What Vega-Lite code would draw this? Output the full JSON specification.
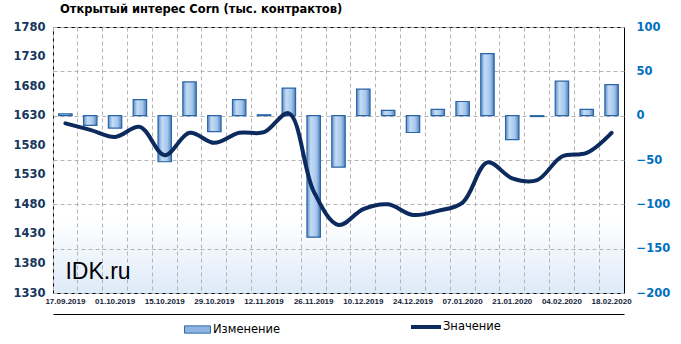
{
  "$schema": "https://vega.github.io/schema/vega-lite/v6.json",
  "width": 571,
  "height": 266,
  "autosize": {"type": "none"},
  "padding": {"left": 53, "top": 27, "right": 57, "bottom": 51},
  "background": "white",
  "title": {
    "text": "Открытый интерес Corn (тыс. контрактов)",
    "anchor": "start",
    "frame": "group",
    "dx": 7,
    "offset": 6,
    "font": "DejaVu Sans",
    "fontSize": 11.5,
    "fontWeight": "bold",
    "color": "black"
  },
  "config": {
    "view": {
      "stroke": "black",
      "strokeWidth": 1,
      "fill": {
        "gradient": "linear",
        "x1": 0, "y1": 0, "x2": 0, "y2": 1,
        "stops": [
          {"offset": 0, "color": "#ffffff"},
          {"offset": 0.72, "color": "#ffffff"},
          {"offset": 1, "color": "#deeaf9"}
        ]
      }
    },
    "axis": {"domain": false, "ticks": false, "title": null, "labelFont": "DejaVu Sans", "labelFontWeight": "bold"}
  },
  "data": {
    "values": [
      {"d": "17.09.2019", "chg": 2, "val": 1617},
      {"d": "24.09.2019", "chg": -11, "val": 1606},
      {"d": "01.10.2019", "chg": -14, "val": 1594},
      {"d": "08.10.2019", "chg": 18, "val": 1611},
      {"d": "15.10.2019", "chg": -52, "val": 1563},
      {"d": "22.10.2019", "chg": 38, "val": 1601},
      {"d": "29.10.2019", "chg": -18, "val": 1584},
      {"d": "05.11.2019", "chg": 18, "val": 1601},
      {"d": "12.11.2019", "chg": 1, "val": 1602},
      {"d": "19.11.2019", "chg": 31, "val": 1634},
      {"d": "26.11.2019", "chg": -137, "val": 1502},
      {"d": "03.12.2019", "chg": -58, "val": 1445},
      {"d": "10.12.2019", "chg": 30, "val": 1472},
      {"d": "17.12.2019", "chg": 6, "val": 1480},
      {"d": "24.12.2019", "chg": -19, "val": 1462},
      {"d": "31.12.2019", "chg": 7, "val": 1469},
      {"d": "07.01.2020", "chg": 16, "val": 1483},
      {"d": "14.01.2020", "chg": 70, "val": 1551},
      {"d": "21.01.2020", "chg": -27, "val": 1524},
      {"d": "28.01.2020", "chg": -1, "val": 1521},
      {"d": "04.02.2020", "chg": 39, "val": 1561},
      {"d": "11.02.2020", "chg": 7, "val": 1567},
      {"d": "18.02.2020", "chg": 35, "val": 1601}
    ]
  },
  "encoding": {
    "x": {
      "field": "d",
      "type": "ordinal",
      "sort": null,
      "scale": {"paddingInner": 0, "paddingOuter": 0},
      "axis": {
        "bandPosition": 0,
        "grid": true,
        "gridColor": "#b4b4b4",
        "gridDash": [4, 3],
        "labelAngle": 0,
        "labelOverlap": false,
        "labelFont": "Liberation Sans",
        "labelFontSize": 8,
        "labelColor": "#141c38",
        "labelPadding": -17,
        "labelBaseline": "top",
        "offset": 21,
        "domain": true,
        "domainColor": "black",
        "domainWidth": 1,
        "labelExpr": "indexof(['17.09.2019','01.10.2019','15.10.2019','29.10.2019','12.11.2019','26.11.2019','10.12.2019','24.12.2019','07.01.2020','21.01.2020','04.02.2020','18.02.2020'], datum.value) < 0 ? '' : datum.value"
      }
    }
  },
  "layer": [
    {
      "encoding": {
        "y": {
          "field": "chg",
          "type": "quantitative",
          "scale": {"domain": [-200, 100], "nice": false, "zero": false},
          "axis": {
            "orient": "right",
            "values": [-200, -150, -100, -50, 0, 50, 100],
            "labelColor": "#0070c0",
            "labelFontSize": 11.5,
            "labelPadding": 12,
            "grid": true,
            "gridColor": "#b4b4b4",
            "gridDash": [4, 3]
          }
        }
      },
      "layer": [
        {
          "mark": {"type": "bar", "width": {"band": 0.54}},
          "encoding": {
            "color": {
              "datum": "Изменение",
              "scale": {"range": ["#8db4e2"]},
              "legend": {
                "orient": "none",
                "legendX": 131,
                "legendY": 289,
                "title": null,
                "padding": 0,
                "symbolType": "M-1,-0.28H1V0.28H-1Z",
                "symbolSize": 676,
                "symbolStrokeColor": "#2f6aa8",
                "symbolStrokeWidth": 1,
                "symbolOpacity": 1,
                "labelFont": "DejaVu Sans",
                "labelFontSize": 11.5,
                "labelColor": "black",
                "labelOffset": 2
              }
            }
          }
        },
        {
          "mark": {
            "type": "bar",
            "width": {"band": 0.54},
            "stroke": "#2a65a6",
            "strokeWidth": 1.2,
            "color": {
              "gradient": "linear",
              "x1": 0, "y1": 0, "x2": 1, "y2": 0,
              "stops": [
                {"offset": 0, "color": "#5f8fc8"},
                {"offset": 0.3, "color": "#c4dcf5"},
                {"offset": 0.7, "color": "#a5c6ec"},
                {"offset": 1, "color": "#4f7fba"}
              ]
            }
          },
          "encoding": {}
        }
      ]
    },
    {
      "encoding": {
        "y": {
          "field": "val",
          "type": "quantitative",
          "scale": {"domain": [1330, 1780], "nice": false, "zero": false},
          "axis": {
            "orient": "left",
            "format": "d",
            "values": [1330, 1380, 1430, 1480, 1530, 1580, 1630, 1680, 1730, 1780],
            "labelColor": "#17365d",
            "labelFontSize": 11.5,
            "labelPadding": 8,
            "grid": false
          }
        }
      },
      "layer": [
        {
          "mark": {"type": "line", "interpolate": "catmull-rom", "strokeWidth": 4, "strokeCap": "round"},
          "encoding": {
            "color": {
              "datum": "Значение",
              "scale": {"range": ["#0c2a5e"]},
              "legend": {
                "orient": "none",
                "legendX": 356,
                "legendY": 283,
                "title": null,
                "padding": 0,
                "symbolType": "stroke",
                "symbolSize": 900,
                "symbolStrokeWidth": 4,
                "labelFont": "DejaVu Sans",
                "labelFontSize": 11.5,
                "labelColor": "black",
                "labelOffset": 0
              }
            }
          }
        },
        {
          "transform": [{"filter": "datum.d === '17.09.2019'"}],
          "mark": {"type": "text", "text": "IDK.ru", "font": "Liberation Sans", "fontSize": 23, "align": "left", "baseline": "alphabetic", "color": "black"},
          "encoding": {"y": {"datum": 1354}}
        }
      ]
    }
  ],
  "resolve": {"scale": {"y": "independent", "color": "independent"}}
}
